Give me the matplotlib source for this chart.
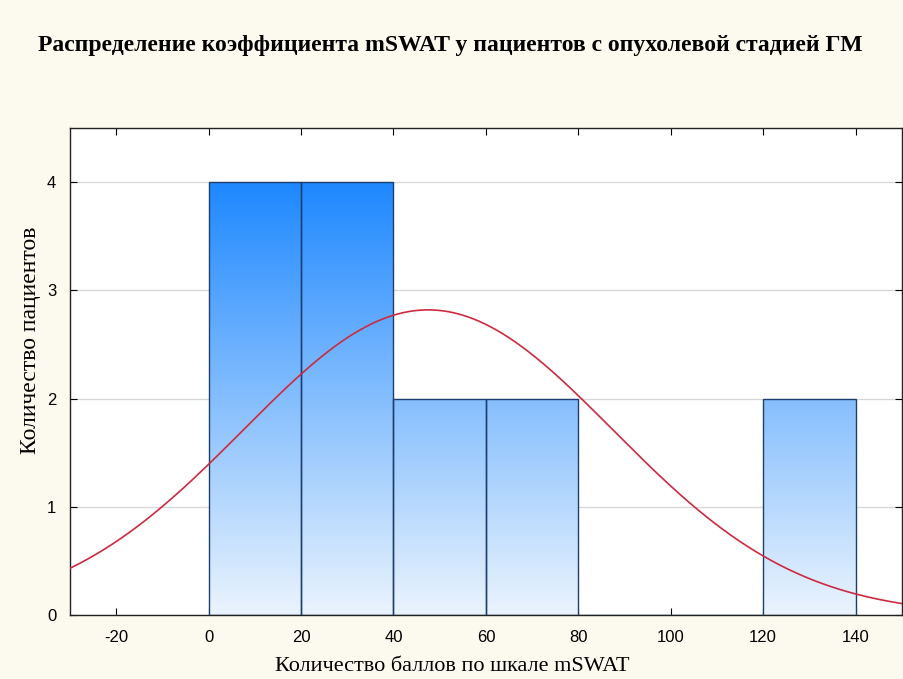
import numpy as np
import matplotlib.pyplot as plt
from matplotlib.colors import LinearSegmentedColormap

plt.rcParams['axes.unicode_minus'] = False

# Данные гистограммы
bin_left = [0, 20, 40, 60, 80, 100, 120]
counts = [4, 4, 2, 2, 0, 0, 2]
bin_width = 20

# Параметры нормальной кривой
curve_mean = 47.5
curve_sd = 40.0
curve_peak = 2.82

title = 'Распределение коэффициента mSWAT у пациентов с опухолевой стадией ГМ'
xlabel = 'Количество баллов по шкале mSWAT'
ylabel = 'Количество пациентов'
xticks = [-20, 0, 20, 40, 60, 80, 100, 120, 140]
yticks = [0, 1, 2, 3, 4]

bg = '#fcf9ef'
fig = plt.figure(figsize=(9.04, 6.79), dpi=100, facecolor=bg)
ax = fig.add_axes([0.0775, 0.0943, 0.920, 0.717])
ax.set_facecolor('white')

xmin, xmax = -30, 150
ymin, ymax = 0, 4.5

grad = LinearSegmentedColormap.from_list('g', ['#ebf4fd', '#1e88ff'])
gradient = np.linspace(0, 1, 256).reshape(-1, 1)

bars = ax.bar(bin_left, counts, width=bin_width, align='edge',
              facecolor='none', edgecolor='#1d3f70', linewidth=1.0, zorder=3)
for b, c in zip(bars, counts):
    if c == 0:
        continue
    im = ax.imshow(gradient, cmap=grad, origin='lower', aspect='auto',
                   extent=[xmin, xmax, 0, 4], zorder=2, interpolation='bicubic')
    im.set_clip_path(b)

xs = np.linspace(xmin, xmax, 400)
ys = curve_peak * np.exp(-0.5 * ((xs - curve_mean) / curve_sd) ** 2)
ax.plot(xs, ys, color='#cc2a40', linewidth=1.2, zorder=4)

ax.set_xlim(xmin, xmax)
ax.set_ylim(ymin, ymax)
ax.set_xticks(xticks)
ax.set_yticks(yticks)
ax.yaxis.grid(True, color='#d6d6d6', linewidth=0.9, zorder=1)
ax.set_axisbelow(True)
ax.tick_params(direction='in', top=True, right=True, length=5, width=0.8,
               labelsize=12)
ax.tick_params(axis='x', pad=11)
ax.tick_params(axis='y', pad=10)
for lab in ax.get_xticklabels() + ax.get_yticklabels():
    lab.set_family('Liberation Sans')
for s in ax.spines.values():
    s.set_linewidth(1.0)
    s.set_color('#222222')

ax.set_xlabel(xlabel, family='Liberation Serif', fontsize=16)
ax.set_ylabel(ylabel, family='Liberation Serif', fontsize=17)
ax.xaxis.set_label_coords(0.459, -0.087)
ax.yaxis.set_label_coords(-0.035, 0.565)
fig.text(0.498, 0.933, title, family='Liberation Serif', fontsize=17,
         fontweight='bold', ha='center', va='center')

fig.savefig('out.png', dpi=100, facecolor=bg)
